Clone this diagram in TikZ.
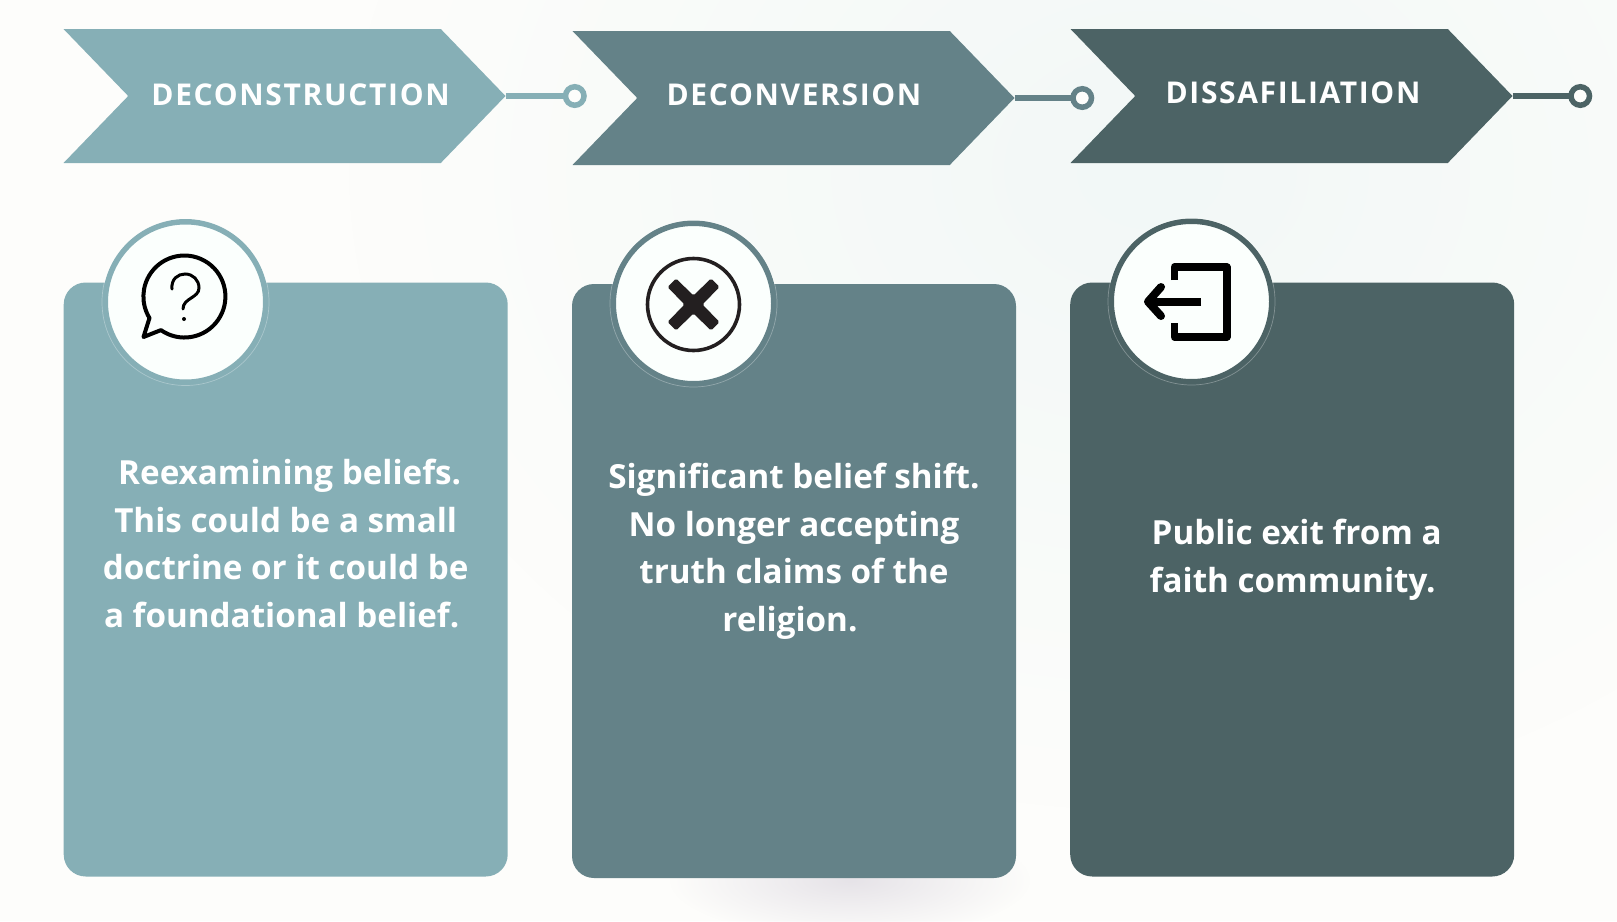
\documentclass[tikz,border=0pt]{standalone}
\usepackage{fontspec}
\setmainfont{Open Sans}
\newfontfamily\headfont{Open Sans}[LetterSpace=5.5]
\usepackage{xcolor}
\definecolor{colorFirst}{HTML}{86AFB6}
\definecolor{colorSecond}{HTML}{648288}
\definecolor{colorThird}{HTML}{4C6365}
\definecolor{colorPaper}{HTML}{FDFDFB}
\definecolor{colorMist}{HTML}{F2F8F7}
\definecolor{colorShadow}{HTML}{E6E3E8}
\definecolor{colorDisc}{HTML}{FBFFFD}
\definecolor{colorMark}{HTML}{231F20}
\usetikzlibrary{positioning, shapes.symbols, fadings}
\tikzfading[name=softblob, inner color=transparent!0, outer color=transparent!100]
\tikzset{
  chevron/.style={signal, signal from=west, signal to=east, signal pointer angle=92, minimum width=442pt, minimum height=134pt, inner sep=0pt, outer sep=0pt},
  card/.style={rectangle, rounded corners=22pt, minimum width=444pt, minimum height=594pt, inner sep=0pt},
  ringnode/.style={circle, line width=5.5pt, fill=colorPaper, minimum size=18.5pt, inner sep=0pt, outer sep=0pt},
  disc/.style={circle, line width=5.5pt, fill=colorDisc, minimum size=160.5pt, inner sep=0pt},
  halo/.style={circle, draw=white, opacity=.3, line width=.7pt, minimum size=167pt, inner sep=0pt},
  link/.style={line width=6pt},
  heading/.style={text=white, font=\headfont\bfseries\fontsize{30}{36}\selectfont},
  bodytext/.style={text=white, align=center, font=\bfseries\fontsize{33.2}{47.5}\selectfont},
}

\begin{document}
\begin{tikzpicture}[x=1pt, y=-1pt]
\useasboundingbox (0,0) rectangle (1617,921);
\fill[colorPaper] (0,0) rectangle (1617,921);
\fill[colorMist, path fading=softblob] (1150,170) ellipse [x radius=800, y radius=640];
\fill[colorShadow, path fading=softblob] (850,880) ellipse [x radius=180, y radius=58];
% chevrons
\node[chevron, fill=colorFirst, anchor=east] (chevA) at (505.5,96) {};
\node[chevron, fill=colorSecond, anchor=east] (chevB) at (1014.5,98) {};
\node[chevron, fill=colorThird, anchor=east] (chevC) at (1512.5,96) {};
\node[heading] (headA) at (300.6,95) {DECONSTRUCTION};
\node[heading] (headB) at (794,95) {DECONVERSION};
\node[heading] (headC) at (1293,92.5) {DISSAFILIATION};
% rings at the end of each chevron
\node[ringnode, draw=colorFirst, right=60pt of chevA.east] (ringA) {};
\node[ringnode, draw=colorSecond, right=58.5pt of chevB.east] (ringB) {};
\node[ringnode, draw=colorThird, right=58.5pt of chevC.east] (ringC) {};
\draw[link, colorFirst] (chevA.east) -- (ringA);
\draw[link, colorSecond] (chevB.east) -- (ringB);
\draw[link, colorThird] (chevC.east) -- (ringC);
% cards
\node[card, fill=colorFirst] (cardA) at (285.7,579.5) {};
\node[card, fill=colorSecond] (cardB) at (794,581) {};
\node[card, fill=colorThird] (cardC) at (1292.2,579.5) {};
\node[disc, draw=colorFirst] (discA) at (185.5,302) {};
\node[disc, draw=colorSecond] (discB) at (693.5,303.5) {};
\node[disc, draw=colorThird] (discC) at (1191.5,301.5) {};
\node[halo] (haloA) at (discA) {};
\node[halo] (haloB) at (discB) {};
\node[halo] (haloC) at (discC) {};
\node[bodytext] (textA) at (285.7,543.5) {\hspace*{8pt}Reexamining beliefs.\\This could be a small\\doctrine or it could be\\a foundational belief.\hspace*{8pt}};
\node[bodytext] (textB) at (794,551.5) {Significant belief shift.\\No longer accepting\\truth claims of the\\religion.\hspace*{8pt}};
\node[bodytext] (textC) at (1296.7,560) {Public exit from a\\faith community.\hspace*{8pt}};
% icon: speech bubble
\draw[black, line width=4pt, line join=round] (160.9,330.1) arc [start angle=125, end angle=-211.6, radius=41] -- (143.5,337) -- cycle;
\draw[black, line width=3pt, line cap=round] (172,289) .. controls (171,279) and (178,274) .. (185,274) .. controls (193,274) and (199,280) .. (199,288) .. controls (199,298) and (183,298) .. (183,309);
\fill[black] (184,319) circle [radius=2];
% icon: crossed circle
\draw[colorMark, line width=3.6pt] (693.5,304.5) circle [radius=46];
\fill[colorMark, rounded corners=1.5pt] (693.5,295.5) -- (711,278.5) -- (719.5,287) -- (702.5,304.5) -- (719.5,322) -- (711,330.5) -- (693.5,313.5) -- (676,330.5) -- (667.5,322) -- (684.5,304.5) -- (667.5,287) -- (676,278.5) -- cycle;
% icon: exit door
\draw[black, line width=7.5pt, line join=round] (1174.4,280) -- (1174.4,267) -- (1226.8,267) -- (1226.8,337) -- (1174.4,337) -- (1174.4,323);
\draw[black, line width=8pt] (1201,301.7) -- (1150,301.7);
\draw[black, line width=8pt, line join=round, line cap=round] (1161,287) -- (1148,301.7) -- (1161,316);
\end{tikzpicture}
\end{document}
